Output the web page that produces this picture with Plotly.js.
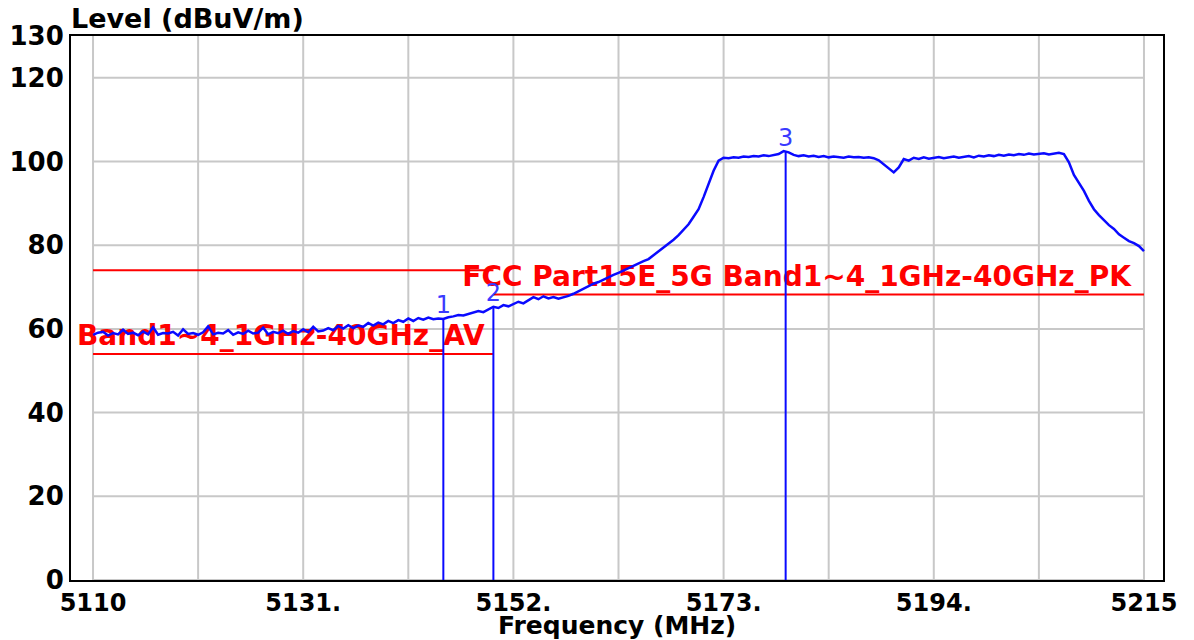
<!DOCTYPE html>
<html>
<head>
<meta charset="utf-8">
<script src="https://cdn.plot.ly/plotly-3.0.1.min.js"></script>
<style>
html,body{margin:0;padding:0;background:#fff;}
#chart{width:1194px;height:640px;}
</style>
</head>
<body>
<div id="chart"></div>
<script>
// ---- data ----
// spectrum trace sampled every 0.5 MHz starting at 5110 MHz (dBuV/m)
const traceStartMHz = 5110;
const traceStepMHz = 0.5;
const traceLevel = [
  58.6, 59.1, 59.3, 58.4, 59.0, 58.7, 59.8, 58.8, 59.1, 58.5,
  59.4, 58.7, 60.4, 58.6, 59.0, 58.9, 59.3, 58.4, 59.9, 58.8,
  59.0, 58.6, 59.2, 60.6, 58.7, 59.1, 58.9, 59.7, 58.6, 59.2,
  58.8, 59.6, 58.9, 59.1, 60.3, 58.7, 59.3, 59.0, 59.6, 58.8,
  59.5, 59.1, 59.9, 59.2, 60.5, 59.4, 59.6, 60.2, 59.7, 60.7,
  60.1, 60.9, 60.2, 60.8, 60.5,
  61.4, 60.8, 61.5, 61.1, 61.9, 61.4, 62.1, 61.7, 62.5, 61.9, 62.6, 62.2, 62.7, 62.3, 62.5, 62.4,
  62.8, 63.0, 63.3, 63.2, 63.6, 63.9, 64.3, 64.0, 64.6, 65.3,
  65.0, 65.7, 65.4, 66.0, 66.5, 66.1, 66.9, 67.6, 67.1, 67.8,
  67.3, 67.6, 67.2, 67.5, 67.9, 68.4, 69.0, 69.6, 70.2, 70.8,
  71.2, 71.8, 72.3, 72.9, 73.4, 74.0, 74.5, 75.1, 75.6, 76.2,
  76.7, 77.6, 78.7, 79.5, 80.3, 81.3, 82.4, 83.6, 85.0, 86.8,
  88.6, 91.5, 94.6, 97.8, 100.2, 100.9,
  100.8, 101.0, 100.9, 101.2, 101.1, 101.3, 101.2, 101.5, 101.3, 101.6,
  101.8, 102.5, 102.2, 101.6, 101.3, 101.5, 101.2, 101.4, 101.1, 101.3,
  101.0, 101.2, 101.1, 100.9, 101.2, 101.0, 101.1, 100.9, 101.0, 100.8,
  100.3, 99.4, 98.3, 97.4, 98.6, 100.6, 100.2,
  100.9, 100.6, 101.0, 100.7, 100.9, 101.1, 100.8, 101.0, 101.2, 100.9,
  101.1, 101.3, 101.0, 101.4, 101.2, 101.5, 101.3, 101.6, 101.4, 101.7,
  101.5, 101.8, 101.6, 101.9, 101.7, 101.8, 102.0, 101.7, 101.9, 102.1,
  101.8,
  99.8, 96.8, 95.0, 93.0, 90.6, 88.6, 87.2, 85.9, 84.8, 83.9, 82.6, 81.8, 81.0, 80.5, 79.8, 78.6
];

// markers
const markerNames = ['1', '2', '3'];
const markerFreq = [5145.0, 5150.0, 5179.2];
const markerLevel = [62.4, 65.3, 102.4];

// limit lines
const pkLimitFreq = [5110, 5150, null, 5150, 5215];
const pkLimitLevel = [74, 74, null, 68.2, 68.2];
const avLimitFreq = [5110, 5150];
const avLimitLevel = [54, 54];
const pkLimitName = 'FCC Part15E_5G Band1~4_1GHz-40GHz_PK';
const avLimitName = 'Band1~4_1GHz-40GHz_AV';

// axes
const xTitle = 'Frequency (MHz)';
const yTitle = 'Level (dBuV/m)';
const xTickVals = [5110, 5131, 5152, 5173, 5194, 5215];
const xTickText = ['5110', '5131.', '5152.', '5173.', '5194.', '5215'];
const yTickVals = [0, 20, 40, 60, 80, 100, 120, 130];
const yTickText = ['0', '20', '40', '60', '80', '100', '120', '130'];
const xGridVals = [5110, 5120.5, 5131, 5141.5, 5152, 5162.5, 5173, 5183.5, 5194, 5204.5, 5215];
const yGridVals = [0, 20, 40, 60, 80, 100, 120];

// ---- build ----
const FONT = 'DejaVu Sans, Liberation Sans, Arial, sans-serif';
const BLUE = '#0a0aff';
const RED = '#ff0000';

const mkX = [], mkY = [];
markerFreq.forEach((f, i) => { mkX.push(f, f, null); mkY.push(0, markerLevel[i], null); });

const traces = [
  { // limit labels (drawn under the spectrum, as in the reference)
    type: 'scatter', mode: 'text',
    x: [5146.9], y: [72.0], text: [pkLimitName],
    textposition: 'middle right', cliponaxis: false,
    textfont: { family: FONT, size: 28, color: RED, weight: 'bold' },
    hoverinfo: 'skip'
  },
  {
    type: 'scatter', mode: 'text',
    x: [5108.4], y: [57.9], text: [avLimitName],
    textposition: 'middle right', cliponaxis: false,
    textfont: { family: FONT, size: 28, color: RED, weight: 'bold' },
    hoverinfo: 'skip'
  },
  {
    type: 'scatter', mode: 'lines', x: pkLimitFreq, y: pkLimitLevel,
    line: { color: RED, width: 2 }, connectgaps: false, name: 'PK limit'
  },
  {
    type: 'scatter', mode: 'lines', x: avLimitFreq, y: avLimitLevel,
    line: { color: RED, width: 2 }, name: 'AV limit'
  },
  {
    type: 'scatter', mode: 'lines', x0: traceStartMHz, dx: traceStepMHz, y: traceLevel,
    line: { color: BLUE, width: 2.5 }, name: 'Level'
  },
  {
    type: 'scatter', mode: 'lines', x: mkX, y: mkY,
    line: { color: BLUE, width: 2 }, connectgaps: false, name: 'Markers'
  },
  {
    type: 'scatter', mode: 'text', x: markerFreq, y: markerLevel, text: markerNames,
    textposition: 'top center', cliponaxis: false,
    textfont: { family: FONT, size: 24, color: '#3a3aff' }, hoverinfo: 'skip'
  }
];

const shapes = [];
xGridVals.forEach(v => shapes.push({
  type: 'line', layer: 'below', xref: 'x', yref: 'y', x0: v, x1: v, y0: 0, y1: 130,
  line: { color: '#c8c8c8', width: 2 }
}));
yGridVals.forEach(v => shapes.push({
  type: 'line', layer: 'below', xref: 'x', yref: 'y', x0: 5110, x1: 5215, y0: v, y1: v,
  line: { color: '#c8c8c8', width: 2 }
}));

const layout = {
  width: 1194, height: 640,
  margin: { l: 71, r: 31, t: 36, b: 60, pad: 0 },
  paper_bgcolor: '#ffffff', plot_bgcolor: '#ffffff',
  showlegend: false,
  font: { family: FONT, color: '#000' },
  xaxis: {
    range: [5107.8, 5216.9], tickmode: 'array', tickvals: xTickVals, ticktext: xTickText,
    showgrid: false, zeroline: false, showline: true, mirror: true,
    linecolor: '#000', linewidth: 2, ticks: '',
    tickfont: { family: FONT, size: 24, color: '#000', weight: 'bold' }
  },
  yaxis: {
    range: [0, 130], tickmode: 'array', tickvals: yTickVals, ticktext: yTickText,
    showgrid: false, zeroline: false, showline: true, mirror: true,
    linecolor: '#000', linewidth: 2, ticks: '',
    tickfont: { family: FONT, size: 26, color: '#000', weight: 'bold' }
  },
  shapes: shapes,
  annotations: [
    {
      text: yTitle, xref: 'paper', yref: 'paper', x: 0, y: 1,
      xanchor: 'left', yanchor: 'bottom', showarrow: false, xshift: -2,
      font: { family: FONT, size: 27, color: '#000', weight: 'bold' }
    },
    {
      text: xTitle, xref: 'paper', yref: 'paper', x: 0.5, y: 0,
      xanchor: 'center', yanchor: 'bottom', showarrow: false, yshift: -62,
      font: { family: FONT, size: 25, color: '#000', weight: 'bold' }
    }
  ]
};

Plotly.newPlot('chart', traces, layout, { displayModeBar: false, staticPlot: true });
</script>
</body>
</html>
